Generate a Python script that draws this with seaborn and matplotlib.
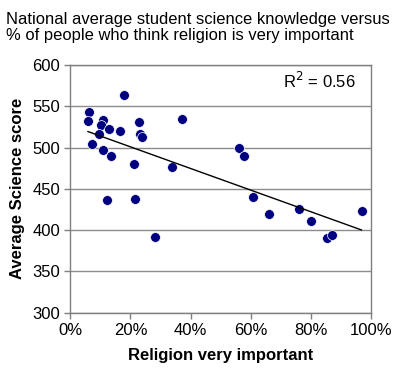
import matplotlib
matplotlib.use("Agg")
import matplotlib.pyplot as plt
import numpy as np
import pandas as pd
import seaborn as sns
from matplotlib.ticker import PercentFormatter

religion_pct = [17.9, 6.2, 5.8, 11.0, 10.2, 9.6, 13.0, 16.5, 22.8, 23.2, 23.9, 37.3,
                7.3, 11.0, 13.4, 21.2, 33.7, 12.1, 21.6, 28.0, 56.0, 57.7, 60.9,
                66.2, 76.1, 80.0, 85.5, 86.9, 96.9]
science_score = [564, 543, 532, 533, 527, 517, 523, 520, 531, 516, 513, 535,
                 504, 497, 490, 480, 476, 436, 438, 392, 499, 490, 440,
                 420, 425, 411, 390, 394, 423]
r2_text = "R$^2$ = 0.56"

df = pd.DataFrame({"religion": religion_pct, "science": science_score})

sns.set_style("white")
plt.rcParams["font.family"] = ["Liberation Sans", "DejaVu Sans"]
plt.rcParams.update({"text.color": "black", "axes.labelcolor": "black",
                     "xtick.labelcolor": "black", "ytick.labelcolor": "black"})

fig = plt.figure(figsize=(4.0, 3.79), dpi=100)
ax = fig.add_axes([0.1758, 0.175, 0.7517, 0.6535])

sns.regplot(data=df, x="religion", y="science", ax=ax, ci=None,
            scatter_kws=dict(s=50, color="#000080", edgecolor="white", linewidths=0.5, alpha=1),
            line_kws=dict(color="black", linewidth=1))

ax.set_xlim(0, 100)
ax.set_ylim(300, 600)
ax.set_xticks(range(0, 101, 20))
ax.set_yticks(range(300, 601, 50))
ax.xaxis.set_major_formatter(PercentFormatter(decimals=0))
ax.yaxis.grid(True, color="#8c8c8c", linewidth=1)
ax.set_axisbelow(True)
for s in ax.spines.values():
    s.set_color("#7f7f7f")
    s.set_linewidth(1)
ax.tick_params(axis="both", direction="out", length=4, color="#7f7f7f",
               labelsize=12, labelcolor="black", width=1, left=True, bottom=True)
ax.set_xlabel("Religion very important", fontsize=12, fontweight="bold", labelpad=7, color="black")
ax.set_ylabel("Average Science score", fontsize=12, fontweight="bold", labelpad=5, color="black")

ax.text(0.95, 0.935, r2_text, transform=ax.transAxes, ha="right", va="center", fontsize=12, color="black")

fig.text(0.015, 0.968, "National average student science knowledge versus\n% of people who think religion is very important",
         ha="left", va="top", fontsize=11.9, linespacing=1.05, color="black")

fig.savefig("out.png", dpi=100)
